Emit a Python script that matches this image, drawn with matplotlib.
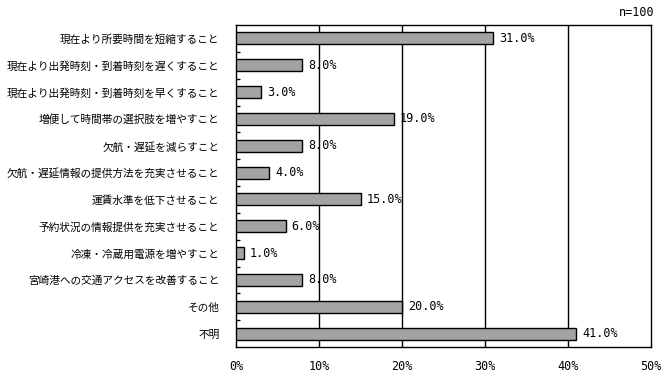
import numpy as np
import matplotlib
matplotlib.use("Agg")
import matplotlib.pyplot as plt

plt.rcParams['font.family'] = ['Noto Sans CJK JP', 'DejaVu Sans']

# data
categories = [
    "現在より所要時間を短縮すること",
    "現在より出発時刻・到着時刻を遅くすること",
    "現在より出発時刻・到着時刻を早くすること",
    "増便して時間帯の選択肢を増やすこと",
    "欠航・遅延を減らすこと",
    "欠航・遅延情報の提供方法を充実させること",
    "運賃水準を低下させること",
    "予約状況の情報提供を充実させること",
    "冷凍・冷蔵用電源を増やすこと",
    "宮崎港への交通アクセスを改善すること",
    "その他",
    "不明",
]
values = [31.0, 8.0, 3.0, 19.0, 8.0, 4.0, 15.0, 6.0, 1.0, 8.0, 20.0, 41.0]
xticks = [0, 10, 20, 30, 40, 50]
sample_note = "n=100"

fig = plt.figure(figsize=(6.68, 3.79), dpi=100)
ax = fig.add_axes([236 / 668, 1 - 347 / 379, 415 / 668, 322 / 379])

y = np.arange(len(categories))
ax.barh(y, values, height=0.45, color="#a3a3a3", edgecolor="black", linewidth=1, zorder=3)

for yi, v in zip(y, values):
    ax.text(v + 0.7, yi, f"{v:.1f}%", va="center", ha="left",
            family="DejaVu Sans Mono", fontsize=8.5, zorder=4)

ax.set_xlim(0, 50)
ax.set_ylim(len(categories) - 0.5, -0.5)

ax.set_xticks(xticks)
ax.set_xticklabels([f"{t}%" for t in xticks], family="DejaVu Sans Mono", fontsize=8.5)
ax.tick_params(axis="x", length=0, pad=9)
for t in xticks[1:-1]:
    ax.axvline(t, color="black", linewidth=1, zorder=2)

ax.set_yticks(y)
ax.set_yticklabels(categories, fontsize=7.7)
ax.tick_params(axis="y", which="major", length=0, pad=12)
ax.set_yticks(np.arange(0.5, len(categories) - 1, 1), minor=True)
ax.tick_params(axis="y", which="minor", direction="in", length=3, width=1)

for s in ax.spines.values():
    s.set_linewidth(1)
    s.set_color("black")

fig.text(654 / 668, 1 - 12 / 379, sample_note, ha="right", va="center",
         family="DejaVu Sans Mono", fontsize=8.5)

fig.savefig("out.png", dpi=100)
